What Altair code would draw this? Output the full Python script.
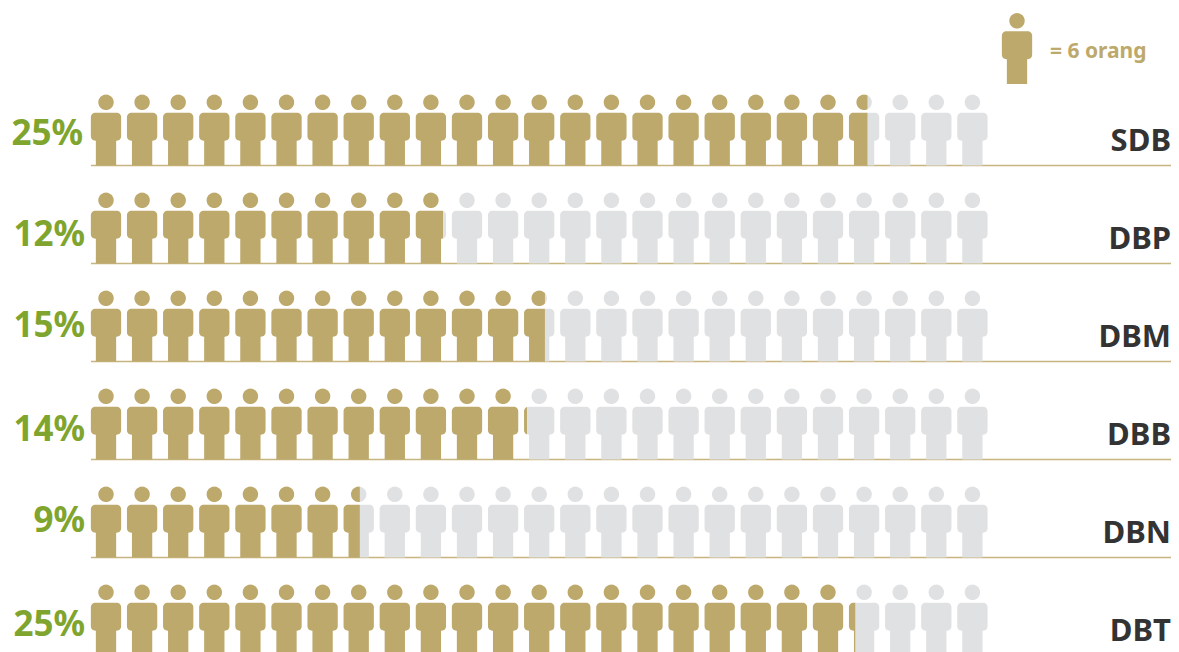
import math
import altair as alt
import pandas as pd

CATEGORIES = ["SDB", "DBP", "DBM", "DBB", "DBN", "DBT"]
PERCENT_LABELS = ["25%", "12%", "15%", "14%", "9%", "25%"]
FILLED_ICONS = [21.62, 9.91, 12.69, 12.10, 7.54, 21.22]
TOTAL_ICONS = 25
LEGEND_TEXT = "= 6 orang"
PERCENT_NUDGE = [-20.5, -17.5, -24.5, -18.5, -25.5, -19.5]
PERCENT_RIGHT = [75, 77, 77, 77, 77, 77]

GOLD = "#BDA96C"
GREY = "#E0E1E3"
GREEN = "#7FA52F"
DARK = "#333333"
RULE = "#C6B57E"
FONT = "Noto Sans"

W, H = 1163, 644
PITCH_X, PITCH_Y = 36.1, 98.0
X0, Y0 = 98.0, 157.5
HALF_W = 15.15


def arc(cx, cy, r, a0, a1, n=8):
    return [(cx + r * math.cos(math.radians(a0 + (a1 - a0) * k / n)),
             cy + r * math.sin(math.radians(a0 + (a1 - a0) * k / n))) for k in range(n + 1)]


HEAD = arc(0, -63.2, 7.7, 0, 360, 48)[:-1]
T, B, L, R = -52.8, -24.8, 10.15, 4.5
BODY = (arc(-HALF_W + R, T + R, R, 180, 270) + arc(HALF_W - R, T + R, R, 270, 360)
        + arc(HALF_W - R, B - R, R, 0, 90) + [(L, B), (L, 0), (-L, 0), (-L, B)]
        + arc(-HALF_W + R, B - R, R, 90, 180))


def clip(poly, c, keep_left):
    inside = (lambda p: p[0] <= c) if keep_left else (lambda p: p[0] >= c)
    out = []
    for i, p in enumerate(poly):
        q = poly[(i + 1) % len(poly)]
        if inside(p):
            out.append(p)
        if inside(p) != inside(q):
            t = (c - p[0]) / (q[0] - p[0])
            out.append((c, p[1] + t * (q[1] - p[1])))
    return out


def to_path(polys):
    parts = []
    for poly in polys:
        if len(poly) > 2:
            parts.append("M" + "L".join(f"{x:.2f},{y:.2f}" for x, y in poly) + "Z")
    return "".join(parts)


FULL = to_path([HEAD, BODY])
rows = []
for r, filled in enumerate(FILLED_ICONS):
    for i in range(TOTAL_ICONS):
        frac = filled - i
        if frac >= 1:
            rows.append(dict(i=i, row=r, path=FULL, fill=GOLD))
        elif frac <= 0:
            rows.append(dict(i=i, row=r, path=FULL, fill=GREY))
        else:
            c = -HALF_W + frac * 2 * HALF_W
            rows.append(dict(i=i, row=r, fill=GOLD,
                             path=to_path([clip(HEAD, c, True), clip(BODY, c, True)])))
            rows.append(dict(i=i, row=r, fill=GREY,
                             path=to_path([clip(HEAD, c, False), clip(BODY, c, False)])))
# legend icon
rows.append(dict(i=(1017 - 106) / PITCH_X, row=(84 - 165.5) / PITCH_Y, path=FULL, fill=GOLD))
icons = pd.DataFrame(rows)

xs = alt.Scale(domain=[-X0 / PITCH_X, (W - X0) / PITCH_X])
ys = alt.Scale(domain=[-Y0 / PITCH_Y, (H - Y0) / PITCH_Y], reverse=True)
X = alt.X("i:Q", scale=xs, axis=None)
Y = alt.Y("row:Q", scale=ys, axis=None)

rows_df = pd.DataFrame({"row": list(range(len(CATEGORIES))), "cat": CATEGORIES, "pct": PERCENT_LABELS})

rules = alt.Chart(rows_df).mark_rule(color=RULE, strokeWidth=1.5, clip=True).encode(
    x=alt.value(83), x2=alt.value(W), y=Y)

marks = alt.Chart(icons).mark_point(filled=True, opacity=1, strokeWidth=0, clip=True).encode(
    x=X, y=Y,
    shape=alt.Shape("path:N", scale=None, legend=None),
    color=alt.Color("fill:N", scale=None, legend=None),
    size=alt.value(4),
)

right_labels = alt.Chart(rows_df).mark_text(
    font=FONT, fontWeight="bold", fontSize=31, color=DARK, align="right",
    baseline="alphabetic", dy=-15, clip=True
).encode(x=alt.value(1163), y=Y, text="cat:N")

pct_layers = [
    alt.Chart(rows_df.iloc[[r]]).mark_text(
        font=FONT, fontWeight="bold", fontSize=35, color=GREEN, align="right",
        baseline="alphabetic", dy=PERCENT_NUDGE[r]
    ).encode(x=alt.value(PERCENT_RIGHT[r]), y=Y, text="pct:N")
    for r in range(len(CATEGORIES))
]

legend_text = alt.Chart(pd.DataFrame({"t": [LEGEND_TEXT]})).mark_text(
    font=FONT, fontWeight="bold", fontSize=21, color=GOLD, align="left", baseline="alphabetic"
).encode(x=alt.value(1042), y=alt.value(50), text="t:N")

chart = alt.layer(rules, marks, right_labels, *pct_layers, legend_text).properties(
    width=W, height=H, padding=0, background="white",
    autosize=alt.AutoSizeParams(type="none"),
).configure_view(stroke=None)

chart.save("out.html", embed_options={"renderer": "svg", "actions": False})
